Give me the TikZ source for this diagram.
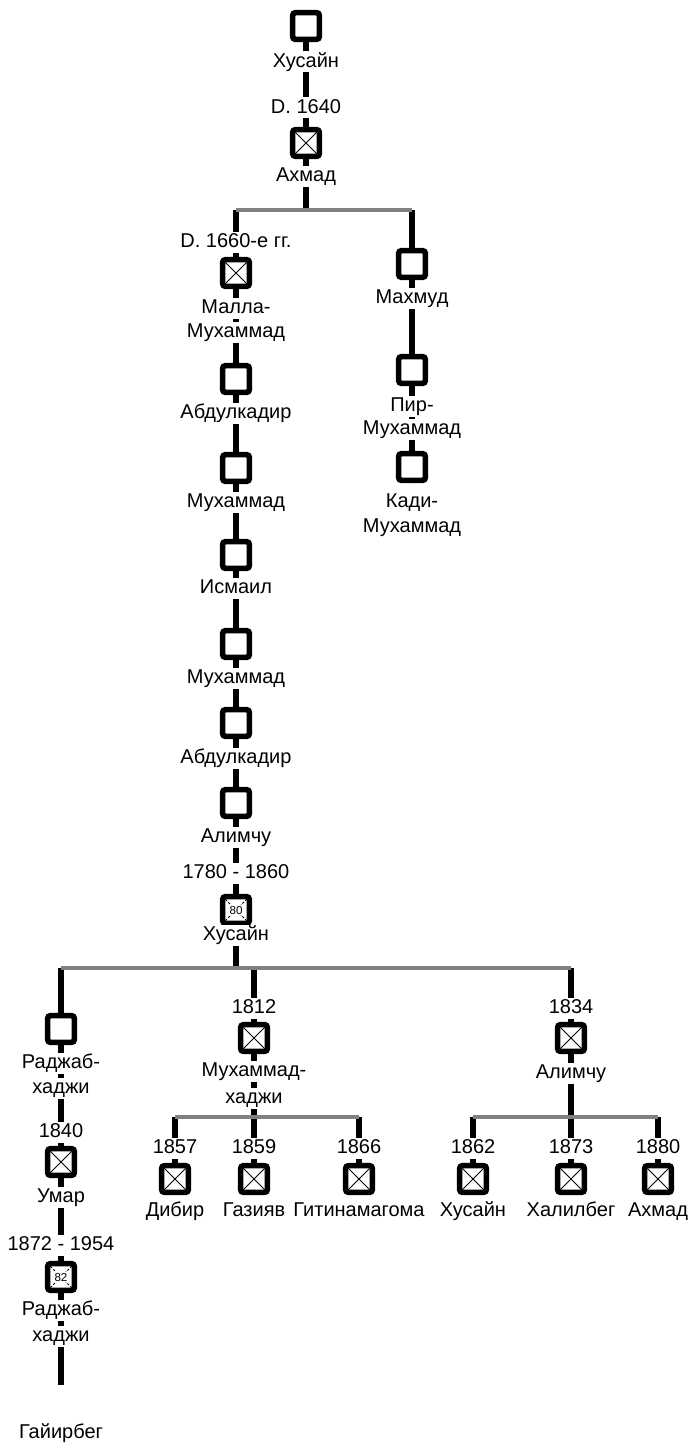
\documentclass[tikz,border=0pt]{standalone}
\usepackage{fontspec}
\setmainfont{Liberation Sans}
\tikzstyle{person}=[draw,line width=2.8pt,rounded corners=1.5pt,minimum size=13.4pt,inner sep=0pt]
\tikzstyle{dead}=[person,path picture={\draw[line width=0.45pt,sharp corners] (path picture bounding box.south west) -- (path picture bounding box.north east) (path picture bounding box.north west) -- (path picture bounding box.south east);}]
\tikzstyle{aged}=[person,font=\fontsize{5.8}{6}\selectfont,path picture={\draw[line width=0.45pt,sharp corners,dash pattern=on 1.2pt off 0.8pt] (path picture bounding box.south west) -- (path picture bounding box.north east) (path picture bounding box.north west) -- (path picture bounding box.south east); \fill[white] (path picture bounding box.center) ++(-3.6pt,-2.6pt) rectangle ++(7.2pt,5.2pt);}]
\tikzstyle{nametext}=[font=\fontsize{10}{12}\selectfont,fill=white,inner sep=0.5pt,text height=7.5pt,text depth=2pt]
\tikzstyle{edge}=[draw,line width=2.8pt]
\tikzstyle{bar}=[draw,line width=2.2pt,gray]

\begin{document}
\begin{tikzpicture}[x=0.5pt,y=-0.5pt]
\useasboundingbox (0,0) rectangle (690,1445);
\node[person] (1) at (306,26) {};
\node[dead] (2) at (306,143) {};
\node[dead] (3) at (236,273) {};
\node[person] (4) at (412,264) {};
\node[person] (5) at (412,370) {};
\node[person] (6) at (412,467) {};
\node[person] (7) at (236,379) {};
\node[person] (8) at (236,468) {};
\node[person] (9) at (236,555) {};
\node[person] (10) at (236,644) {};
\node[person] (11) at (236,723) {};
\node[person] (12) at (236,803) {};
\node[aged] (13) at (236,910) {80};
\node[person] (14) at (61,1029) {};
\node[dead] (15) at (254,1038) {};
\node[dead] (16) at (571,1038) {};
\node[dead] (17) at (61,1162) {};
\node[aged] (18) at (61,1277) {82};
\node[dead] (19) at (175,1179) {};
\node[dead] (20) at (254,1179) {};
\node[dead] (21) at (359,1179) {};
\node[dead] (22) at (473,1179) {};
\node[dead] (23) at (571,1179) {};
\node[dead] (24) at (658,1179) {};

\coordinate (b1) at (306,210);
\coordinate (b1l) at (236,210);
\coordinate (b1r) at (412,210);
\coordinate (b2) at (236,968);
\coordinate (b2l) at (61,968);
\coordinate (b2m) at (254,968);
\coordinate (b2r) at (571,968);
\coordinate (b3) at (254,1117);
\coordinate (b3l) at (175,1117);
\coordinate (b3r) at (359,1117);
\coordinate (b4) at (571,1117);
\coordinate (b4l) at (473,1117);
\coordinate (b4r) at (658,1117);
\coordinate (g) at (61,1385);

 \path[edge] (1) -- (2);
 \path[edge] (2) -- (b1);
 \path[edge] (b1l) -- (3);
 \path[edge] (b1r) -- (4);
 \path[edge] (4) -- (5);
 \path[edge] (5) -- (6);
 \path[edge] (3) -- (7);
 \path[edge] (7) -- (8);
 \path[edge] (8) -- (9);
 \path[edge] (9) -- (10);
 \path[edge] (10) -- (11);
 \path[edge] (11) -- (12);
 \path[edge] (12) -- (13);
 \path[edge] (13) -- (b2);
 \path[edge] (b2l) -- (14);
 \path[edge] (b2m) -- (15);
 \path[edge] (b2r) -- (16);
 \path[edge] (14) -- (17);
 \path[edge] (17) -- (18);
 \path[edge] (18) -- (g);
 \path[edge] (15) -- (b3);
 \path[edge] (b3l) -- (19);
 \path[edge] (b3) -- (20);
 \path[edge] (b3r) -- (21);
 \path[edge] (16) -- (b4);
 \path[edge] (b4l) -- (22);
 \path[edge] (b4) -- (23);
 \path[edge] (b4r) -- (24);

 \path[bar] (b1l) -- (b1r);
 \path[bar] (b2l) -- (b2r);
 \path[bar] (b3l) -- (b3r);
 \path[bar] (b4l) -- (b4r);

\node[nametext] (t1) at (306,62) {Хусайн};
\node[nametext] (t2) at (306,108) {D. 1640};
\node[nametext] (t3) at (306,176) {Ахмад};
\node[nametext] (t4) at (236,242) {D. 1660-е гг.};
\node[nametext] (t5) at (236,308) {Малла-};
\node[nametext] (t6) at (236,332) {Мухаммад};
\node[nametext] (t7) at (412,298) {Махмуд};
\node[nametext] (t8) at (412,406) {Пир-};
\node[nametext] (t9) at (412,429) {Мухаммад};
\node[nametext] (t10) at (412,502) {Кади-};
\node[nametext] (t11) at (412,527) {Мухаммад};
\node[nametext] (t12) at (236,413) {Абдулкадир};
\node[nametext] (t13) at (236,502) {Мухаммад};
\node[nametext] (t14) at (236,588) {Исмаил};
\node[nametext] (t15) at (236,678) {Мухаммад};
\node[nametext] (t16) at (236,758) {Абдулкадир};
\node[nametext] (t17) at (236,837) {Алимчу};
\node[nametext] (t18) at (236,873) {1780 - 1860};
\node[nametext] (t19) at (236,935) {Хусайн};
\node[nametext] (t20) at (61,1063) {Раджаб-};
\node[nametext] (t21) at (61,1088) {хаджи};
\node[nametext] (t22) at (254,1008) {1812};
\node[nametext] (t23) at (254,1071) {Мухаммад-};
\node[nametext] (t24) at (254,1098) {хаджи};
\node[nametext] (t25) at (571,1008) {1834};
\node[nametext] (t26) at (571,1073) {Алимчу};
\node[nametext] (t27) at (61,1132) {1840};
\node[nametext] (t28) at (61,1197) {Умар};
\node[nametext] (t29) at (61,1245) {1872 - 1954};
\node[nametext] (t30) at (61,1310) {Раджаб-};
\node[nametext] (t31) at (61,1336) {хаджи};
\node[nametext] (t32) at (61,1433) {Гайирбег};

\node[nametext] (t33) at (175,1148) {1857};
\node[nametext] (t34) at (254,1148) {1859};
\node[nametext] (t35) at (359,1148) {1866};
\node[nametext] (t36) at (473,1148) {1862};
\node[nametext] (t37) at (571,1148) {1873};
\node[nametext] (t38) at (658,1148) {1880};
\node[nametext] (t39) at (175,1211) {Дибир};
\node[nametext] (t40) at (254,1211) {Газияв};
\node[nametext] (t41) at (359,1211) {Гитинамагома};
\node[nametext] (t42) at (473,1211) {Хусайн};
\node[nametext] (t43) at (571,1211) {Халилбег};
\node[nametext] (t44) at (658,1211) {Ахмад};
\end{tikzpicture}
\end{document}
